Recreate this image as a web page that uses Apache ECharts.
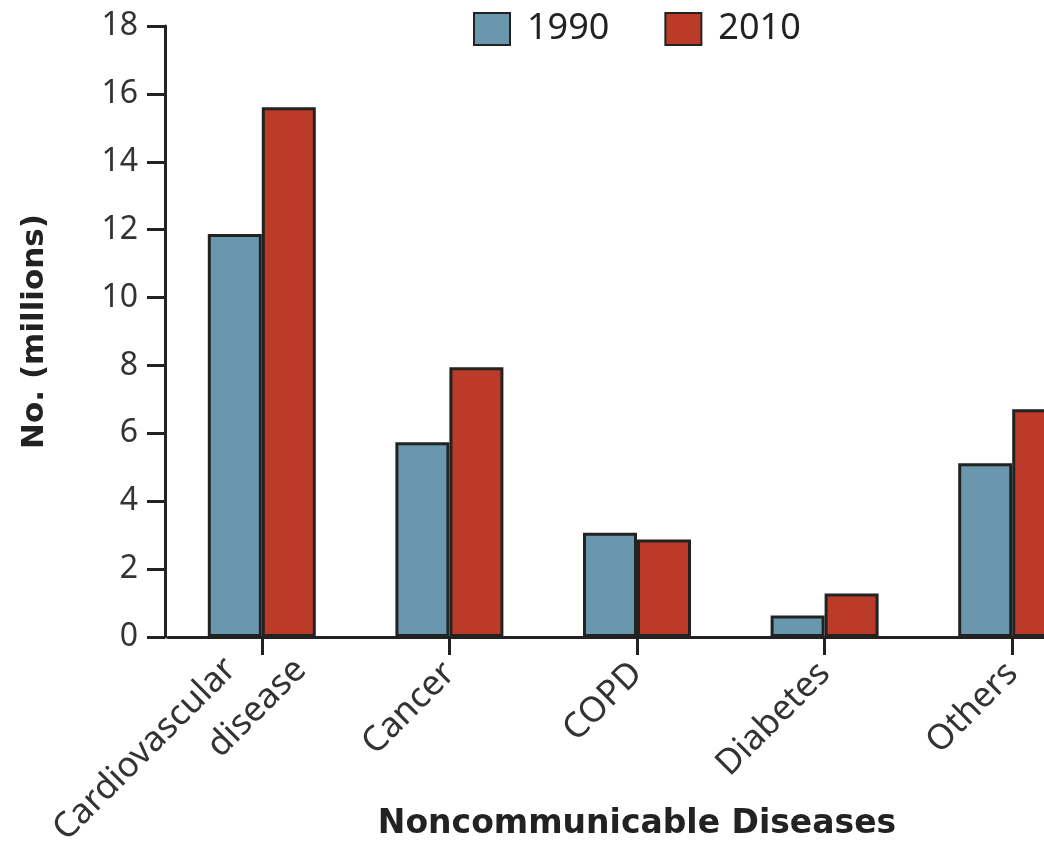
<!DOCTYPE html>
<html>
<head>
<meta charset="utf-8">
<script src="https://cdn.jsdelivr.net/npm/echarts@6/dist/echarts.min.js"></script>
<style>html,body{margin:0;padding:0;background:#fff}#c{width:1044px;height:842px}</style>
</head>
<body>
<div id="c"></div>
<script>
const categories = ['Cardiovascular\ndisease', 'Cancer', 'COPD', 'Diabetes', 'Others'];
const values1990 = [11.87, 5.74, 3.07, 0.63, 5.12];
const values2010 = [15.61, 7.95, 2.87, 1.28, 6.71];
const seriesNames = ['1990', '2010'];
const yTicks = { min: 0, max: 18, interval: 2 };

const FONT = '"Noto Sans", "Open Sans", sans-serif';
const BOLD = '"DejaVu Sans", "Noto Sans", sans-serif';
const INK = '#222';
const chart = echarts.init(document.getElementById('c'), null, { renderer: 'canvas' });
chart.setOption({
  animation: false,
  backgroundColor: '#fff',
  textStyle: { fontFamily: FONT },
  legend: {
    top: 6, left: 468,
    icon: 'rect',
    itemWidth: 36, itemHeight: 32, itemGap: 55,
    textStyle: { fontSize: 36, color: INK, fontFamily: FONT, padding: [0, 0, 0, 12] },
    data: seriesNames
  },
  grid: { left: 168, width: 938, top: 26, height: 611, containLabel: false, outerBoundsMode: 'none' },
  xAxis: {
    type: 'category',
    data: categories,
    boundaryGap: true,
    axisLine: { show: true, lineStyle: { color: INK, width: 3 } },
    axisTick: { show: true, alignWithLabel: true, length: 18, lineStyle: { color: INK, width: 3 } },
    axisLabel: {
      rotate: 45, fontSize: 35, color: '#333', margin: 31, interval: 0, fontFamily: FONT,
      formatter: function (v) {
        const parts = v.split('\n');
        if (parts.length < 2) return v;
        return '{a|' + parts[0] + '}\n{b|' + parts[1] + '}';
      },
      rich: {
        a: { fontSize: 35, color: '#333', fontFamily: FONT, lineHeight: 50, padding: [0, 19, 0, 0] },
        b: { fontSize: 35, color: '#333', fontFamily: FONT, lineHeight: 50, padding: [0, -30, 0, 0] }
      }
    },
    name: 'Noncommunicable Diseases',
    nameLocation: 'middle',
    nameGap: 171,
    nameMoveOverlap: false,
    nameTextStyle: { fontSize: 33, fontWeight: 'bold', color: INK, fontFamily: BOLD }
  },
  yAxis: {
    type: 'value',
    min: yTicks.min, max: yTicks.max, interval: yTicks.interval,
    offset: 3,
    splitLine: { show: false },
    axisLine: { show: true, lineStyle: { color: INK, width: 3 } },
    axisTick: { show: true, length: 18, lineStyle: { color: INK, width: 3 } },
    axisLabel: { fontSize: 32, color: '#333', margin: 27, fontFamily: FONT },
    name: 'No. (millions)',
    nameLocation: 'middle',
    nameGap: 115,
    nameMoveOverlap: false,
    nameTextStyle: { fontSize: 31, fontWeight: 'bold', color: INK, fontFamily: BOLD }
  },
  series: [
    {
      name: seriesNames[0], type: 'bar', data: values1990,
      barWidth: 54, barGap: '0%',
      itemStyle: { color: '#6897ae', borderColor: INK, borderWidth: 3 }
    },
    {
      name: seriesNames[1], type: 'bar', data: values2010,
      barWidth: 54, barGap: '0%',
      itemStyle: { color: '#bc3a28', borderColor: INK, borderWidth: 3 }
    }
  ]
});
</script>
</body>
</html>
